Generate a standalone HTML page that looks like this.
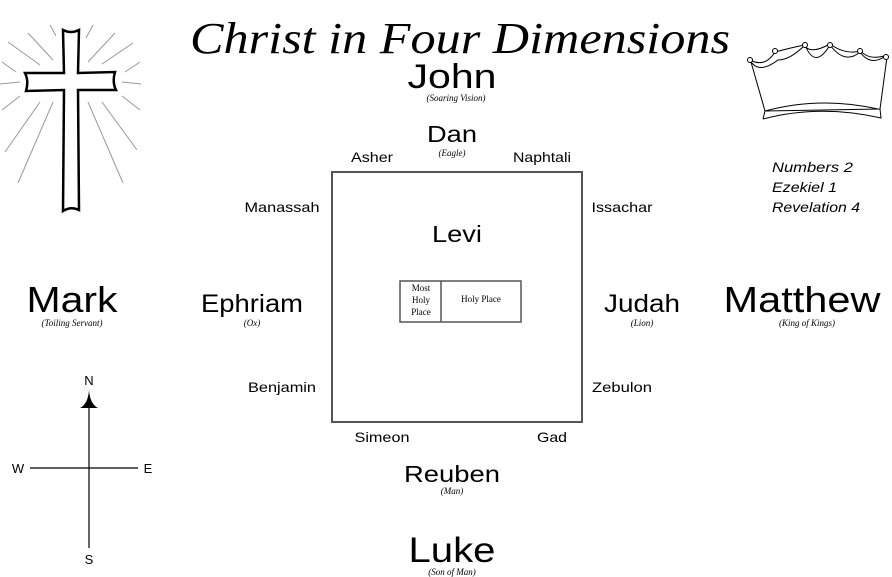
<!DOCTYPE html>
<html><head><style>body{margin:0;background:#fff}svg{display:block}</style></head><body>
<svg width="892" height="577" viewBox="0 0 892 577" xmlns="http://www.w3.org/2000/svg">
<style>
.s{font-family:"Liberation Sans",sans-serif;fill:#000;text-anchor:middle}
.i{font-family:"Liberation Serif",serif;font-style:italic;fill:#000;text-anchor:middle;font-size:9px}
</style>
<g stroke="#999" stroke-width="1">
<line x1="50" y1="25" x2="56" y2="36"/><line x1="93" y1="25" x2="86" y2="38"/>
<line x1="28" y1="33" x2="53" y2="60"/><line x1="115" y1="33" x2="88" y2="62"/>
<line x1="8" y1="42" x2="40" y2="65"/><line x1="133" y1="43" x2="102" y2="64"/>
<line x1="2" y1="62" x2="16" y2="72"/><line x1="140" y1="62" x2="125" y2="72"/>
<line x1="0" y1="84" x2="20" y2="82"/><line x1="122" y1="82" x2="141" y2="84"/>
<line x1="2" y1="110" x2="20" y2="96"/><line x1="122" y1="96" x2="140" y2="110"/>
<line x1="5" y1="152" x2="40" y2="102"/><line x1="102" y1="102" x2="137" y2="150"/>
<line x1="18" y1="183" x2="53" y2="102"/><line x1="88" y1="102" x2="123" y2="183"/>
</g>
<path d="M63 30 Q71 34 79 30 L78 73 L115 72 Q112 82 116 90 L78 90 L79 210 Q71 206 63 211 L64 90 L26 91 Q29 81 25 73 L64 73 Z" fill="#fff" stroke="#000" stroke-width="2.5"/>
<g fill="none" stroke="#000" stroke-width="1">
<path d="M750 60 Q765 68 775 52 Q790 48 804 45 Q810 55 830 44 Q845 55 861 51 Q868 60 885 56"/>
<path d="M750 60 Q758 75 778 60 Q790 60 805 45 Q815 70 830 45 Q845 65 860 52 Q870 66 884 57"/>
<path d="M751 62 L765 111 L880 109 L887 57"/>
<path d="M765 111 Q820 96 878 109"/>
<path d="M763 119 Q820 104 881 118 L880 109 M763 119 L765 111"/>
<circle cx="750" cy="60" r="2.5" fill="#fff"/><circle cx="775" cy="51" r="2.5" fill="#fff"/><circle cx="805" cy="45" r="2.5" fill="#fff"/><circle cx="830" cy="45" r="2.5" fill="#fff"/><circle cx="860" cy="51" r="2.5" fill="#fff"/><circle cx="886" cy="57" r="2.5" fill="#fff"/>
</g>
<text x="190" y="53" font-family="Liberation Serif,serif" font-style="italic" font-size="44" textLength="540" lengthAdjust="spacingAndGlyphs">Christ in Four Dimensions</text>
<text class="s" x="452" y="88" font-size="34" textLength="89" lengthAdjust="spacingAndGlyphs">John</text><text class="i" x="456" y="101">(Soaring Vision)</text>
<text class="s" x="452" y="142" font-size="23" textLength="50" lengthAdjust="spacingAndGlyphs">Dan</text><text class="i" x="452" y="156">(Eagle)</text>
<text class="s" x="372" y="162" font-size="14" textLength="42" lengthAdjust="spacingAndGlyphs">Asher</text><text class="s" x="542" y="162" font-size="14" textLength="58" lengthAdjust="spacingAndGlyphs">Naphtali</text>
<rect x="332" y="172" width="250" height="250" fill="none" stroke="#555" stroke-width="2"/>
<text class="s" x="282" y="212" font-size="14" textLength="75" lengthAdjust="spacingAndGlyphs">Manassah</text><text class="s" x="622" y="212" font-size="14" textLength="61" lengthAdjust="spacingAndGlyphs">Issachar</text>
<text class="s" x="457" y="242" font-size="23" textLength="50" lengthAdjust="spacingAndGlyphs">Levi</text>
<rect x="400" y="281" width="121" height="41" fill="none" stroke="#555" stroke-width="1.5"/>
<line x1="441" y1="281" x2="441" y2="322" stroke="#555" stroke-width="1.5"/>
<g font-family="Liberation Serif,serif" font-size="9" text-anchor="middle"><text x="421" y="291">Most</text><text x="421" y="303">Holy</text><text x="421" y="315">Place</text><text x="481" y="302">Holy Place</text></g>
<text class="s" x="72" y="312" font-size="36" textLength="91" lengthAdjust="spacingAndGlyphs">Mark</text><text class="i" x="72" y="326">(Toiling Servant)</text>
<text class="s" x="252" y="312" font-size="25" textLength="102" lengthAdjust="spacingAndGlyphs">Ephriam</text><text class="i" x="252" y="326">(Ox)</text>
<text class="s" x="642" y="312" font-size="25" textLength="76" lengthAdjust="spacingAndGlyphs">Judah</text><text class="i" x="642" y="326">(Lion)</text>
<text class="s" x="802" y="312" font-size="36" textLength="157" lengthAdjust="spacingAndGlyphs">Matthew</text><text class="i" x="807" y="326">(King of Kings)</text>
<text class="s" x="282" y="392" font-size="14" textLength="68" lengthAdjust="spacingAndGlyphs">Benjamin</text><text class="s" x="622" y="392" font-size="14" textLength="60" lengthAdjust="spacingAndGlyphs">Zebulon</text>
<text class="s" x="382" y="442" font-size="14" textLength="55" lengthAdjust="spacingAndGlyphs">Simeon</text><text class="s" x="552" y="442" font-size="14" textLength="30" lengthAdjust="spacingAndGlyphs">Gad</text>
<text class="s" x="452" y="482" font-size="23" textLength="96" lengthAdjust="spacingAndGlyphs">Reuben</text><text class="i" x="452" y="494">(Man)</text>
<text class="s" x="452" y="562" font-size="35" textLength="87" lengthAdjust="spacingAndGlyphs">Luke</text><text class="i" x="452" y="575">(Son of Man)</text>
<g font-family="Liberation Sans,sans-serif" font-style="italic" font-size="14"><text x="772" y="172" textLength="81" lengthAdjust="spacingAndGlyphs">Numbers 2</text><text x="772" y="192" textLength="65" lengthAdjust="spacingAndGlyphs">Ezekiel 1</text><text x="772" y="212" textLength="88" lengthAdjust="spacingAndGlyphs">Revelation 4</text></g>
<g stroke="#000" stroke-width="1.2"><line x1="89" y1="395" x2="89" y2="548"/><line x1="30" y1="468" x2="138" y2="468"/></g>
<path d="M89 390 Q88 404 80 408 L98 408 Q90 404 89 390Z" fill="#000"/>
<g font-family="Liberation Sans,sans-serif" font-size="13" text-anchor="middle"><text x="89" y="385">N</text><text x="18" y="473">W</text><text x="148" y="473">E</text><text x="89" y="564">S</text></g>
</svg>
</body></html>
